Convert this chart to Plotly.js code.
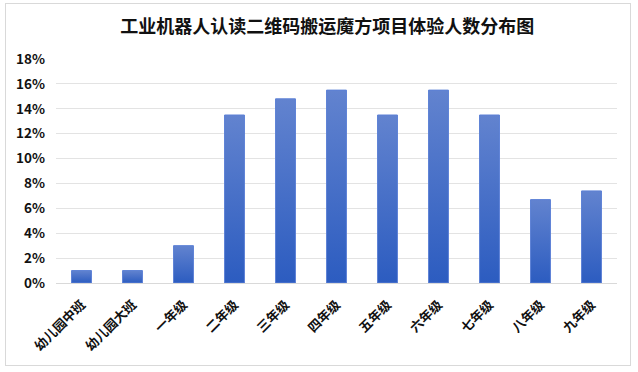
<!DOCTYPE html>
<html>
<head>
<meta charset="utf-8">
<script src="https://cdn.plot.ly/plotly-3.0.1.min.js"></script>
<style>
  html, body { margin: 0; padding: 0; background: #fff; }
  #wrap { position: relative; width: 638px; height: 372px; }
  #chart { width: 638px; height: 372px; }
  #frame { position: absolute; left: 5px; top: 3px; width: 626px; height: 363px;
           border: 1px solid #d9d9d9; pointer-events: none; box-sizing: border-box; }
</style>
</head>
<body>
<div id="wrap">
  <div id="chart"></div>
  <div id="frame"></div>
</div>
<script>
const categories = ["幼儿园中班", "幼儿园大班", "一年级", "二年级", "三年级", "四年级", "五年级", "六年级", "七年级", "八年级", "九年级"];
const shares = [1, 1, 3, 13.5, 14.8, 15.5, 13.5, 15.5, 13.5, 6.7, 7.4];
const yTickVals = [0, 2, 4, 6, 8, 10, 12, 14, 16, 18];
const yTickText = ["0%", "2%", "4%", "6%", "8%", "10%", "12%", "14%", "16%", "18%"];
const chartTitle = "工业机器人认读二维码搬运魔方项目体验人数分布图";

const font = "'Noto Sans CJK SC', 'Noto Sans', sans-serif";

const trace = {
  type: "bar",
  x: categories,
  y: shares,
  marker: { color: "#4472c4", line: { color: "#5c80d6", width: 1 } },
  hoverinfo: "none"
};

const layout = {
  width: 638,
  height: 372,
  margin: { l: 56, r: 21, t: 59, b: 89 },
  paper_bgcolor: "#ffffff",
  plot_bgcolor: "#ffffff",
  showlegend: false,
  bargap: 0.61,
  title: {
    text: "<b>" + chartTitle + "</b>",
    font: { family: font, size: 18, color: "#111111" },
    x: 0.513, xanchor: "center",
    y: 1 - 27 / 372, yanchor: "middle", yref: "container"
  },
  xaxis: {
    type: "category",
    tickangle: -45,
    tickfont: { family: font, size: 13, color: "#111111", weight: "bold" },
    showline: true, linecolor: "#d9d9d9", linewidth: 1,
    ticks: "", showgrid: false, zeroline: false,
    ticklabelstandoff: 8
  },
  yaxis: {
    range: [0, 18],
    tickvals: yTickVals,
    ticktext: yTickText,
    tickfont: { family: font, size: 13.5, color: "#111111", weight: "bold" },
    showgrid: true, gridcolor: "#e3e3e3", gridwidth: 1,
    zeroline: false, showline: false, ticks: "",
    ticklabelstandoff: 10
  }
};

Plotly.newPlot("chart", [trace], layout, { displayModeBar: false, staticPlot: true }).then(function (gd) {
  const svg = gd.querySelector("svg.main-svg");
  const defs = svg.querySelector("defs");
  const ns = "http://www.w3.org/2000/svg";
  const grad = document.createElementNS(ns, "linearGradient");
  grad.setAttribute("id", "barGrad");
  grad.setAttribute("x1", "0"); grad.setAttribute("y1", "0");
  grad.setAttribute("x2", "0"); grad.setAttribute("y2", "1");
  [["0", "#6283cf"], ["1", "#2c5cc0"]].forEach(function (s) {
    const st = document.createElementNS(ns, "stop");
    st.setAttribute("offset", s[0]);
    st.setAttribute("stop-color", s[1]);
    grad.appendChild(st);
  });
  defs.appendChild(grad);
  gd.querySelectorAll(".bars .point path").forEach(function (p) {
    p.style.fill = "url(#barGrad)";
  });
});
</script>
</body>
</html>
